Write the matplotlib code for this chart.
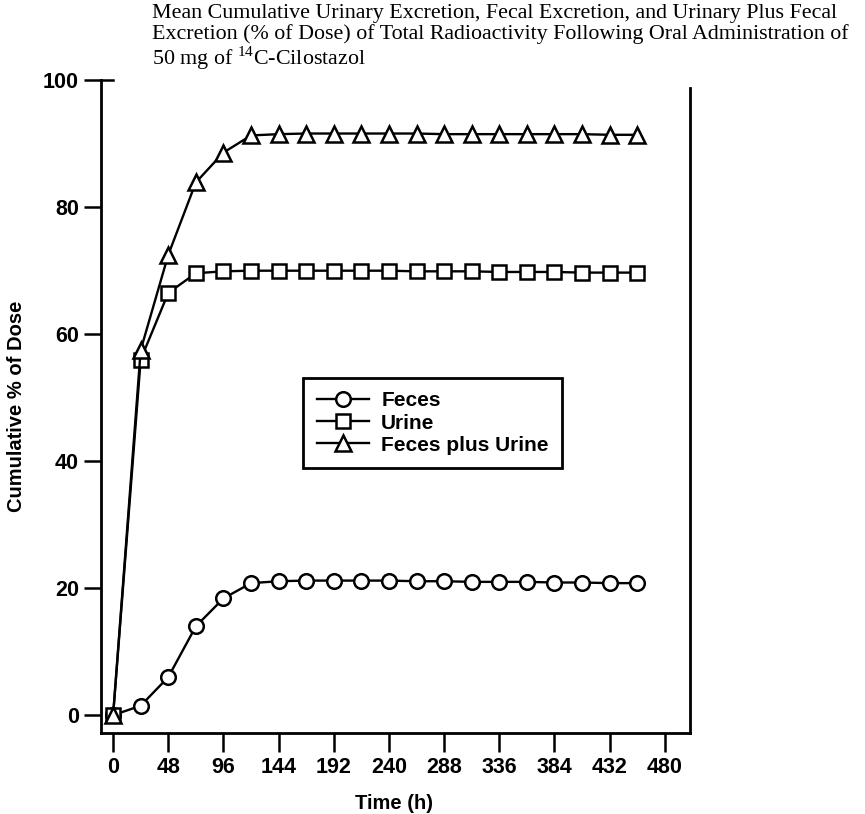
import numpy as np
import matplotlib.pyplot as plt

# cumulative excretion, % of dose
time_h = [0, 24, 48, 72, 96, 120, 144, 168, 192, 216, 240, 264, 288, 312, 336,
          360, 384, 408, 432, 456]
feces = [0, 1.5, 6.0, 14.0, 18.4, 20.8, 21.1, 21.2, 21.2, 21.2, 21.2, 21.1, 21.1,
         21.0, 21.0, 21.0, 20.9, 20.9, 20.8, 20.8]
urine = [0, 56.0, 66.5, 69.6, 69.9, 70.0, 70.0, 70.0, 70.0, 70.0, 70.0, 69.9, 69.9,
         69.9, 69.8, 69.8, 69.8, 69.7, 69.7, 69.7]
feces_plus_urine = [0, 57.5, 72.5, 83.9, 88.6, 91.3, 91.5, 91.6, 91.6, 91.6, 91.6,
                    91.6, 91.5, 91.5, 91.5, 91.5, 91.5, 91.5, 91.4, 91.4]

x_ticks = [0, 48, 96, 144, 192, 240, 288, 336, 384, 432, 480]
y_ticks = [0, 20, 40, 60, 80, 100]

title = ("Mean Cumulative Urinary Excretion, Fecal Excretion, and Urinary Plus Fecal\n"
         "Excretion (% of Dose) of Total Radioactivity Following Oral Administration of\n"
         "50 mg of $^{14}$C-Cilostazol")

plt.rcParams['mathtext.fontset'] = 'custom'
plt.rcParams['mathtext.rm'] = 'Liberation Serif'
sans = 'Liberation Sans'

fig = plt.figure(figsize=(8.65, 8.14), dpi=100)
ax = fig.add_axes([0.1168, 0.0995, 0.681, 0.802])

mk = dict(color='black', lw=1.7, markerfacecolor='white', markeredgecolor='black',
          markeredgewidth=1.8, markersize=10.5)
ax.plot(time_h, feces, marker='o', label='Feces', **mk)
ax.plot(time_h, urine, marker='s', label='Urine', **dict(mk, markersize=10))
ax.plot(time_h, feces_plus_urine, marker='^', label='Feces plus Urine',
        **dict(mk, markersize=11.5))

ax.set_xlim(-10.5, 502)
ax.set_ylim(-2.8, 100)
ax.spines['top'].set_visible(False)
for s in ['left', 'right', 'bottom']:
    ax.spines[s].set_linewidth(2)
ax.spines['right'].set_bounds(-2.8, 98.7)

# short cap across the top of the y axis
ax.plot([-10.5, 0], [100, 100], color='black', lw=1.8, clip_on=False)

ax.set_xticks(x_ticks)
ax.set_yticks(y_ticks)
ax.tick_params(axis='x', direction='out', length=14, width=1.8, pad=3)
ax.tick_params(axis='y', direction='out', length=12, width=1.8, pad=4)
for lab in ax.get_xticklabels() + ax.get_yticklabels():
    lab.set_fontfamily(sans)
    lab.set_fontweight('bold')
    lab.set_fontsize(15.5)

ax.set_xlabel('Time (h)', family=sans, fontweight='bold', fontsize=14.5)
ax.xaxis.set_label_coords(0.497, -0.093)
ax.set_ylabel('Cumulative % of Dose', family=sans, fontweight='bold', fontsize=14.5)
ax.yaxis.set_label_coords(-0.127, 0.5)

leg = ax.legend(loc='upper left', bbox_to_anchor=(0.343, 0.544), fancybox=False,
                edgecolor='black', framealpha=1, handlelength=2.5,
                borderpad=0.65, labelspacing=0.15, handletextpad=0.6,
                borderaxespad=0, prop=dict(family=sans, weight='bold', size=15))
leg.get_frame().set_linewidth(2)

fig.text(0.176, 0.995, title, family='Liberation Serif', fontsize=15.8,
         ha='left', va='top', linespacing=1.05)

fig.savefig('out.png', dpi=100)
